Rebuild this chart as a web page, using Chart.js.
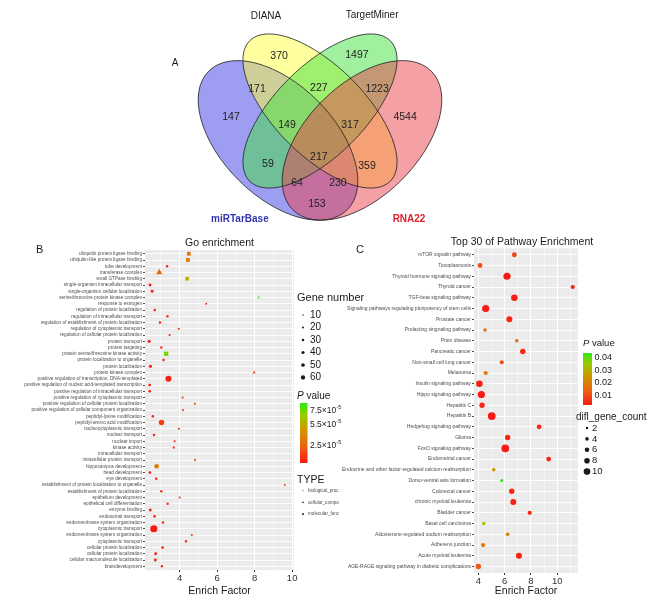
<!DOCTYPE html>
<html>
<head>
<meta charset="utf-8">
<script src="https://cdn.jsdelivr.net/npm/chart.js@4.4.0/dist/chart.umd.min.js"></script>
<style>
  html, body { margin: 0; padding: 0; background: #fff; }
  #wrap { position: relative; width: 660px; height: 601px; }
  #wrap canvas { position: absolute; left: 0; top: 0; }
</style>
</head>
<body>
<div id="wrap">
  <canvas id="vennChart" width="660" height="601"></canvas>
  <canvas id="goChart" width="660" height="601"></canvas>
  <canvas id="pathChart" width="660" height="601"></canvas>
</div>
<script>
/* globals Chart, document */

// ---------- A: venn counts ----------
const vennSetNames = ['DIANA', 'TargetMiner', 'miRTarBase', 'RNA22'];
const vennCounts = [370, 1497, 171, 227, 1223, 147, 149, 317, 4544, 217, 59, 359, 64, 230, 153];

// ---------- B: GO enrichment ----------
const goTerms = [
  'ubiquitin protein ligase binding', 'ubiquitin-like protein ligase binding', 'tube development',
  'transferase complex', 'small GTPase binding', 'single-organism intracellular transport',
  'single-organism cellular localization', 'serine/threonine protein kinase complex', 'response to estrogen',
  'regulation of protein localization', 'regulation of intracellular transport',
  'regulation of establishment of protein localization', 'regulation of cytoplasmic transport',
  'regulation of cellular protein localization', 'protein transport', 'protein targeting',
  'protein serine/threonine kinase activity', 'protein localization to organelle', 'protein localization',
  'protein kinase complex', 'positive regulation of transcription, DNA-templated',
  'positive regulation of nucleic acid-templated transcription', 'positive regulation of intracellular transport',
  'positive regulation of cytoplasmic transport', 'positive regulation of cellular protein localization',
  'positive regulation of cellular component organization', 'peptidyl-lysine modification',
  'peptidyl-amino acid modification', 'nucleocytoplasmic transport', 'nuclear transport', 'nuclear import',
  'kinase activity', 'intracellular transport', 'intracellular protein transport', 'hippocampus development',
  'head development', 'eye development', 'establishment of protein localization to organelle',
  'establishment of protein localization', 'epithelium development', 'epithelical cell differentiation',
  'enzyme binding', 'endosomal transport', 'endomembrane system organization', 'cytoplasmic transport',
  'endomembrane system organization', 'cytoplasmic transport', 'cellular protein localization',
  'cellular protein localization', 'cellular macromolecule localization', 'braindevelopment',
];
const goFactor = [
  4.49, 4.44, 3.33, 2.91, 4.40, 2.42, 2.53, 8.21, 5.42, 2.67,
  3.35, 2.95, 3.95, 3.46, 2.37, 3.02, 3.28, 3.14, 2.44, 7.97,
  3.40, 2.40, 2.40, 4.16, 4.81, 4.18, 2.57, 3.03, 3.96, 2.63,
  3.73, 3.68, null, 4.82, 2.77, 2.41, 2.75, 9.61, 3.02, 4.00,
  3.36, 2.43, 2.66, 3.11, 2.62, 4.65, 4.34, 3.09, 2.72, 2.70, 3.05,
];
const goGenes = [
  28, 28, 10, 40, 26, 16, 16, 8, 6, 12,
  10, 10, 8, 8, 18, 10, 34, 12, 18, 14,
  48, 14, 14, 7, 7, 7, 12, 42, 7, 12,
  8, 8, null, 7, 34, 14, 12, 5, 10, 7,
  10, 14, 12, 10, 60, 7, 10, 14, 16, 16, 10,
];
const goPval = [
  3.2e-5, 3.4e-5, 0.3e-5, 2.8e-5, 5.8e-5, 0.2e-5, 0.2e-5, 8.6e-5, 0.6e-5, 0.3e-5,
  0.4e-5, 0.3e-5, 0.8e-5, 0.6e-5, 0.1e-5, 0.5e-5, 7.3e-5, 0.4e-5, 0.1e-5, 2.2e-5,
  0.2e-5, 0.3e-5, 0.3e-5, 0.9e-5, 1.0e-5, 0.9e-5, 0.4e-5, 1.3e-5, 0.9e-5, 0.3e-5,
  0.7e-5, 0.6e-5, null, 1.0e-5, 3.4e-5, 0.2e-5, 0.4e-5, 1.2e-5, 0.5e-5, 0.9e-5,
  0.5e-5, 0.2e-5, 0.3e-5, 0.5e-5, 0.1e-5, 1.1e-5, 0.7e-5, 0.3e-5, 0.2e-5, 0.2e-5, 0.4e-5,
];
const goType = [
  'MF', 'MF', 'BP', 'CC', 'MF', 'BP', 'BP', 'CC', 'BP', 'BP',
  'BP', 'BP', 'BP', 'BP', 'BP', 'BP', 'MF', 'BP', 'BP', 'CC',
  'BP', 'BP', 'BP', 'BP', 'BP', 'BP', 'BP', 'BP', 'BP', 'BP',
  'BP', 'MF', 'BP', 'BP', 'BP', 'BP', 'BP', 'BP', 'BP', 'BP',
  'BP', 'MF', 'BP', 'BP', 'BP', 'BP', 'BP', 'BP', 'BP', 'BP', 'BP',
];
const goFactorTicks = [3, 4, 5, 6, 7, 8, 9, 10];
const goGeneTicks = [10, 20, 30, 40, 50, 60];
const goPvalTicks = [2.5e-5, 5.5e-5, 7.5e-5];
const goTypeKeys = ['BP', 'CC', 'MF'];
const goTypeNames = ['biological_proc', 'cellular_compo', 'molecular_func'];

// ---------- C: KEGG pathways ----------
const pathTerms = [
  'mTOR signalin pathway', 'Toxoplasmosis', 'Thyroid hormone signaling pathway', 'Thyroid cancer',
  'TGF-beta signaling pathway', 'Signaling pathways regulating pluripotency of stem cells', 'Prostate cancer',
  'Prolacting singnaling pathway', 'Prion disease', 'Pancreatic cancer', 'Non-small cell lung cancer',
  'Melanoma', 'Insulin signaling pathway', 'Hippo signaling pathway', 'Hepatitis C', 'Hepatitis B',
  'Hedgehog signaling pathway', 'Glioma', 'FoxO signaling pathway', 'Endometrial cancer',
  'Endocrine and other factor-regulated calcium reabsorption', 'Dorso-ventral axis formation',
  'Colorectal cancer', 'chronic myeloid leukemia', 'Bladder cancer', 'Basal cell carcinoma',
  'Aldosterone-regulated sodium reabsorption', 'Adherens junction', 'Acute myeloid leukemia',
  'AGE-RAGE signaling pathway in diabetic complications',
];
const pathFactor = [
  6.74, 4.13, 6.18, 11.18, 6.74, 4.56, 6.36, 4.51, 6.92, 7.38,
  5.78, 4.56, 4.08, 4.23, 4.28, 5.02, 8.62, 6.23, 6.05, 9.35,
  5.17, 5.78, 6.54, 6.66, 7.91, 4.41, 6.23, 4.36, 7.09, 4.00,
];
const pathGenes = [
  5, 5, 9, 4, 8, 9, 7, 3, 3, 6,
  4, 4, 8, 9, 6, 10, 5, 6, 10, 5,
  3, 2, 6, 7, 4, 3, 3, 4, 7, 6,
];
const pathPval = [
  0.008, 0.011, 0.002, 0.003, 0.003, 0.002, 0.004, 0.016, 0.017, 0.004,
  0.011, 0.018, 0.003, 0.002, 0.004, 0.002, 0.004, 0.004, 0.002, 0.004,
  0.025, 0.044, 0.004, 0.003, 0.004, 0.034, 0.018, 0.017, 0.003, 0.012,
];
const pathFactorTicks = [4, 5, 6, 7, 8, 9, 10, 11];
const pathPvalTicks = [0.01, 0.02, 0.03, 0.04];
const pathGeneTicks = [2, 4, 6, 8, 10];

// ---------- look ----------
const mainFont = '"Liberation Sans", Arial, sans-serif';
const narrowFont = '"Liberation Sans Narrow", "Liberation Sans", sans-serif';
const inkColor = '#1a1a1a';
const rampStops = [[0, [250, 25, 20]], [0.3, [236, 104, 16]], [0.55, [205, 150, 0]], [0.8, [150, 205, 0]], [1, [45, 232, 25]]];
const typeStyles = { BP: 'circle', CC: 'triangle', MF: 'rect' };
const typeScale = { BP: 1, CC: 1.4, MF: 1.3 };

// venn geometry in a 0..1 box, VennDiagram-like quad layout
const vennEllipses = [
  { cx: 0.35, cy: 0.47, a: 0.35, b: 0.2, rot: 1, fill: 'rgba(60,60,230,0.5)' },
  { cx: 0.5, cy: 0.575, a: 0.355, b: 0.16, rot: 1, fill: 'rgba(255,255,65,0.5)' },
  { cx: 0.5, cy: 0.575, a: 0.355, b: 0.16, rot: -1, fill: 'rgba(65,225,65,0.5)' },
  { cx: 0.65, cy: 0.47, a: 0.35, b: 0.2, rot: -1, fill: 'rgba(235,65,75,0.5)' },
];
const vennSpots = [
  [0.354, 0.771], [0.632, 0.775], [0.275, 0.654], [0.496, 0.657], [0.704, 0.654],
  [0.182, 0.554], [0.382, 0.525], [0.607, 0.525], [0.804, 0.554], [0.496, 0.411],
  [0.314, 0.386], [0.668, 0.379], [0.418, 0.318], [0.564, 0.318], [0.489, 0.243],
];
const vennNameSpots = [[0.307, 0.914], [0.686, 0.918], [0.214, 0.189], [0.818, 0.189]];
const vennNameColors = [inkColor, inkColor, '#3535b0', '#e0202a'];

function rampColor(t) {
  t = Math.max(0, Math.min(1, t));
  for (let k = 1; k < rampStops.length; k++) {
    const [t0, c0] = rampStops[k - 1];
    const [t1, c1] = rampStops[k];
    if (t <= t1) {
      const f = (t - t0) / (t1 - t0);
      return `rgb(${c0.map((c, j) => Math.round(c + (c1[j] - c) * f)).join(',')})`;
    }
  }
  return 'rgb(45,232,25)';
}
const goRange = [Math.min(...goPval.filter(v => v !== null)), Math.max(...goPval.filter(v => v !== null))];
const pathRange = [Math.min(...pathPval), Math.max(...pathPval)];
const goColor = p => rampColor((p - goRange[0]) / (goRange[1] - goRange[0]));
const pathColor = p => rampColor((p - pathRange[0]) / (pathRange[1] - pathRange[0]));
const goRadius = n => 0.7 + 0.048 * n;
const pathRadius = n => 0.9 + 0.3 * n;

function drawMark(ctx, style, r, x, y) {
  if (Chart.helpers && Chart.helpers.drawPoint) {
    Chart.helpers.drawPoint(ctx, { pointStyle: style, radius: r, rotation: 0, borderWidth: 0 }, x, y);
  } else {
    ctx.beginPath(); ctx.arc(x, y, r, 0, Math.PI * 2); ctx.fill();
  }
}

function drawPTitle(ctx, x, y, size) {
  ctx.font = `italic ${size}px ${mainFont}`;
  ctx.fillText('P', x, y);
  const w = ctx.measureText('P').width;
  ctx.font = `${size}px ${mainFont}`;
  ctx.fillText(' value', x + w, y);
}

function drawRampBar(ctx, box, range, ticks, label) {
  const g = ctx.createLinearGradient(0, box.bottom, 0, box.top);
  for (let k = 0; k <= 20; k++) g.addColorStop(k / 20, rampColor(k / 20));
  ctx.fillStyle = g;
  ctx.fillRect(box.left, box.top, box.width, box.bottom - box.top);
  ctx.fillStyle = inkColor;
  ticks.forEach(v => {
    const yy = box.bottom - (v - range[0]) / (range[1] - range[0]) * (box.bottom - box.top);
    label(v, box.left + box.width + 2.5, yy);
  });
}

const panelBg = {
  id: 'panelBg',
  beforeDraw(chart) {
    const { ctx, chartArea: a } = chart;
    ctx.save();
    ctx.fillStyle = '#ebebeb';
    ctx.fillRect(a.left, a.top, a.width, a.height);
    ctx.restore();
  },
};

function factorAxis(min, max, ticks, height) {
  return {
    type: 'linear',
    min,
    max,
    afterBuildTicks: s => { s.ticks = ticks.map(value => ({ value })); },
    afterFit: s => { s.height = height; },
    border: { display: false },
    grid: {
      color: '#ffffff',
      lineWidth: c => (c.tick && c.tick.value % 2 === 0 ? 1 : 0.5),
      tickColor: c => (c.tick && c.tick.value % 2 === 0 ? '#333333' : 'rgba(0,0,0,0)'),
      tickLength: 2,
    },
    ticks: {
      autoSkip: false,
      maxRotation: 0,
      padding: 1,
      color: '#333333',
      font: { family: mainFont, size: 9.5 },
      callback: v => (v % 2 === 0 ? String(v) : ''),
    },
    title: {
      display: true,
      text: 'Enrich Factor',
      color: inkColor,
      font: { family: mainFont, size: 10.5 },
      padding: { top: 0, bottom: 3.7 },
    },
  };
}

function termAxis(terms, width, fontSize) {
  return {
    type: 'linear',
    reverse: true,
    min: 0.4,
    max: terms.length + 0.6,
    afterBuildTicks: s => { s.ticks = terms.map((_, i) => ({ value: i + 1 })); },
    afterFit: s => { s.width = width; },
    border: { display: false },
    grid: { color: '#ffffff', lineWidth: 0.9, tickColor: '#333333', tickLength: 2 },
    ticks: {
      autoSkip: false,
      padding: 1,
      color: '#4d4d4d',
      font: { family: narrowFont, size: fontSize },
      callback: v => terms[v - 1],
    },
  };
}

// ---------- A ----------
const vennDraw = {
  id: 'vennDraw',
  beforeDatasetsDraw(chart) {
    const { ctx, scales: { x, y } } = chart;
    const unit = x.getPixelForValue(1) - x.getPixelForValue(0);
    const path = e => {
      ctx.beginPath();
      ctx.ellipse(x.getPixelForValue(e.cx), y.getPixelForValue(e.cy), e.a * unit, e.b * unit,
        e.rot * Math.PI / 4, 0, Math.PI * 2);
    };
    ctx.save();
    vennEllipses.forEach(e => { path(e); ctx.fillStyle = e.fill; ctx.fill(); });
    ctx.strokeStyle = '#202020';
    ctx.lineWidth = 0.8;
    vennEllipses.forEach(e => { path(e); ctx.stroke(); });
    ctx.restore();
  },
  afterDatasetsDraw(chart) {
    const { ctx, scales: { x, y } } = chart;
    const meta = chart.getDatasetMeta(0);
    ctx.save();
    ctx.textAlign = 'center';
    ctx.textBaseline = 'middle';
    ctx.fillStyle = '#222222';
    ctx.font = `10.5px ${mainFont}`;
    meta.data.forEach((pt, i) => ctx.fillText(String(vennCounts[i]), pt.x, pt.y));
    vennSetNames.forEach((name, i) => {
      ctx.fillStyle = vennNameColors[i];
      ctx.font = `${i >= 2 ? 'bold ' : ''}10px ${mainFont}`;
      ctx.fillText(name, x.getPixelForValue(vennNameSpots[i][0]), y.getPixelForValue(vennNameSpots[i][1]));
    });
    ctx.fillStyle = inkColor;
    ctx.font = `10px ${mainFont}`;
    ctx.fillText('A', 175, 63);
    ctx.restore();
  },
};

new Chart(document.getElementById('vennChart'), {
  type: 'scatter',
  data: {
    datasets: [{
      data: vennCounts.map((n, i) => ({ x: vennSpots[i][0], y: vennSpots[i][1] })),
      pointRadius: 0,
    }],
  },
  options: {
    responsive: false,
    animation: false,
    events: [],
    layout: { padding: 0, autoPadding: false },
    plugins: { legend: { display: false }, tooltip: { enabled: false } },
    scales: {
      x: { type: 'linear', display: false, min: -180 / 280, max: 480 / 280 },
      y: { type: 'linear', display: false, min: (272 - 601) / 280, max: 272 / 280 },
    },
  },
  plugins: [vennDraw],
});

// ---------- B ----------
const goRows = goTerms.map((_, i) => i).filter(i => goFactor[i] !== null);

const goLegend = {
  id: 'goLegend',
  afterDraw(chart) {
    const { ctx } = chart;
    ctx.save();
    ctx.fillStyle = inkColor;
    ctx.textAlign = 'left';
    ctx.textBaseline = 'middle';
    ctx.font = `11px ${mainFont}`;
    ctx.fillText('B', 36, 250);
    ctx.fillText('Gene number', 297, 298);
    ctx.font = `10px ${mainFont}`;
    goGeneTicks.forEach((n, i) => {
      const yy = 315 + i * 12.5;
      drawMark(ctx, 'circle', goRadius(n) * 0.6, 303, yy);
      ctx.fillText(String(n), 310, yy);
    });
    drawPTitle(ctx, 297, 396, 10);
    drawRampBar(ctx, { left: 300, top: 403, width: 7.5, bottom: 463 }, goRange, goPvalTicks, (v, lx, ly) => {
      const base = `${(v / 1e-5).toFixed(1)}×10`;
      ctx.font = `8.5px ${mainFont}`;
      ctx.fillText(base, lx, ly);
      const w = ctx.measureText(base).width;
      ctx.font = `5.5px ${mainFont}`;
      ctx.fillText('-5', lx + w + 0.3, ly - 3.5);
    });
    ctx.fillStyle = inkColor;
    ctx.font = `10.5px ${mainFont}`;
    ctx.fillText('TYPE', 297, 480);
    goTypeKeys.forEach((key, i) => {
      const yy = 490.5 + i * 11.8;
      ctx.fillStyle = key === 'BP' ? '#9a9a9a' : '#333333';
      drawMark(ctx, typeStyles[key], key === 'BP' ? 0.8 : 1.3, 303, yy);
      ctx.fillStyle = '#4d4d4d';
      ctx.font = `4.6px ${narrowFont}`;
      ctx.fillText(goTypeNames[i], 308, yy);
    });
    ctx.restore();
  },
};

new Chart(document.getElementById('goChart'), {
  type: 'scatter',
  data: {
    datasets: [{
      data: goRows.map(i => ({ x: goFactor[i], y: i + 1 })),
      pointRadius: goRows.map(i => goRadius(goGenes[i]) * typeScale[goType[i]]),
      pointStyle: goRows.map(i => typeStyles[goType[i]]),
      backgroundColor: goRows.map(i => goColor(goPval[i])),
      borderWidth: 0,
    }],
  },
  options: {
    responsive: false,
    animation: false,
    events: [],
    layout: { padding: { left: 0, right: 366, top: 236.7, bottom: 0 } },
    plugins: {
      legend: { display: false },
      tooltip: { enabled: false },
      title: {
        display: true,
        fullSize: false,
        text: 'Go enrichment',
        color: inkColor,
        font: { family: mainFont, size: 10.5, weight: 'normal' },
        padding: { top: 0, bottom: 0.7 },
      },
    },
    scales: {
      x: factorAxis(2.15, 10.1, goFactorTicks, 31),
      y: termAxis(goTerms, 145, 4.7),
    },
  },
  plugins: [panelBg, goLegend],
});

// ---------- C ----------
const pathLegend = {
  id: 'pathLegend',
  afterDraw(chart) {
    const { ctx } = chart;
    ctx.save();
    ctx.fillStyle = inkColor;
    ctx.textBaseline = 'middle';
    // title is wider than the panel, so it is set by hand
    ctx.textAlign = 'center';
    ctx.font = `10.5px ${mainFont}`;
    ctx.fillText('Top 30 of Pathway Enrichment', 522, 242);
    ctx.textAlign = 'left';
    ctx.font = `11px ${mainFont}`;
    ctx.fillText('C', 356, 250);
    drawPTitle(ctx, 583, 343, 9.5);
    drawRampBar(ctx, { left: 583, top: 353, width: 9, bottom: 405 }, pathRange, pathPvalTicks, (v, lx, ly) => {
      ctx.font = `9px ${mainFont}`;
      ctx.fillText(v.toFixed(2), lx, ly);
    });
    ctx.fillStyle = inkColor;
    ctx.font = `10px ${mainFont}`;
    ctx.fillText('difl_gene_count', 576, 417);
    pathGeneTicks.forEach((n, i) => {
      const yy = 428 + i * 10.9;
      drawMark(ctx, 'circle', pathRadius(n) * 0.85, 587, yy);
      ctx.font = `9.5px ${mainFont}`;
      ctx.fillText(String(n), 592, yy);
    });
    ctx.restore();
  },
};

new Chart(document.getElementById('pathChart'), {
  type: 'scatter',
  data: {
    datasets: [{
      data: pathFactor.map((f, i) => ({ x: f, y: i + 1 })),
      pointRadius: pathGenes.map(pathRadius),
      backgroundColor: pathPval.map(pathColor),
      borderWidth: 0,
    }],
  },
  options: {
    responsive: false,
    animation: false,
    events: [],
    layout: { padding: { left: 320, right: 82, top: 248.3, bottom: 0 } },
    plugins: { legend: { display: false }, tooltip: { enabled: false } },
    scales: {
      x: factorAxis(3.67, 11.58, pathFactorTicks, 28),
      y: termAxis(pathTerms, 154, 5),
    },
  },
  plugins: [panelBg, pathLegend],
});
</script>
</body>
</html>
